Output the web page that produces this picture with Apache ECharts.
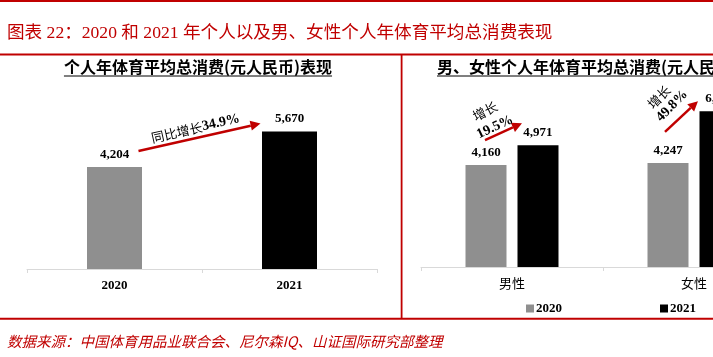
<!DOCTYPE html>
<html>
<head>
<meta charset="utf-8">
<script src="https://cdn.jsdelivr.net/npm/echarts@6/dist/echarts.min.js"></script>
<style>
html,body{margin:0;padding:0;background:#fff;overflow:hidden;}
#wrap{width:713px;height:357px;overflow:hidden;position:relative;}
#c{width:800px;height:357px;}
</style>
</head>
<body>
<div id="wrap"><div id="c"></div></div>
<script>
// ---- data ----
const categoriesTotal = ['2020', '2021'];
const valuesTotal = [4204, 5670];
const genderCategories = ['男性', '女性'];
const values2020 = [4160, 4247];
const values2021 = [4971, 6362];
const growthTotal = '34.9%';
const growthGender = ['19.5%', '49.8%'];
const seriesNames = ['2020', '2021'];

const mainTitle = '图表 22：2020 和 2021 年个人以及男、女性个人年体育平均总消费表现';
const leftTitle = '个人年体育平均总消费(元人民币)表现';
const rightTitle = '男、女性个人年体育平均总消费(元人民币)表现';
const sourceText = '数据来源：中国体育用品业联合会、尼尔森IQ、山证国际研究部整理';

// ---- styles ----
const RED = '#c00000';
const GRAY = '#8f8f8f';
const SERIF = '"Liberation Serif","Times New Roman","Noto Sans CJK SC"';
const CJK = '"Noto Sans CJK SC"';
const fmt = v => Number(v).toLocaleString('en-US');

const chart = echarts.init(document.getElementById('c'), null, {renderer: 'canvas'});

const axisLineStyle = {color: '#d9d9d9', width: 1};
const labelStyle = {show: true, position: 'top', distance: 6, fontFamily: SERIF, fontWeight: 'bold', fontSize: 13, color: '#000', formatter: p => fmt(p.value)};

const BW = 41, GAPPX = 11;

const option = {
  animation: false,
  backgroundColor: '#fff',
  grid: [
    {left: 27, width: 350, top: 75, height: 194},
    {left: 421, width: 364, top: 71, height: 196}
  ],
  legend: [
    {data: [seriesNames[0]], left: 521, top: 297, icon: 'rect', itemWidth: 8, itemHeight: 8, itemGap: 0,
     textStyle: {fontFamily: SERIF, fontWeight: 'bold', fontSize: 13, color: '#000', padding: [0, 0, 0, -3]}},
    {data: [seriesNames[1]], left: 655, top: 297, icon: 'rect', itemWidth: 8, itemHeight: 8, itemGap: 0,
     textStyle: {fontFamily: SERIF, fontWeight: 'bold', fontSize: 13, color: '#000', padding: [0, 0, 0, -3]}}
  ],
  xAxis: [
    {gridIndex: 0, type: 'category', data: categoriesTotal,
     axisLine: {lineStyle: axisLineStyle}, axisTick: {show: true, length: 4, lineStyle: axisLineStyle},
     axisLabel: {margin: 10, fontFamily: SERIF, fontWeight: 'bold', fontSize: 13, color: '#000'}},
    {gridIndex: 1, type: 'category', data: genderCategories,
     axisLine: {lineStyle: axisLineStyle}, axisTick: {show: true, length: 4, lineStyle: axisLineStyle},
     axisLabel: {margin: 10, fontFamily: CJK, fontSize: 13, color: '#000'}}
  ],
  yAxis: [
    {gridIndex: 0, type: 'value', min: 0, max: 8000, show: false},
    {gridIndex: 1, type: 'value', min: 0, max: 8000, show: false}
  ],
  series: [
    {type: 'bar', name: 'total', xAxisIndex: 0, yAxisIndex: 0, barWidth: 55,
     data: valuesTotal.map((v, i) => ({value: v, itemStyle: {color: i === 0 ? GRAY : '#000'}})),
     label: labelStyle},
    {type: 'bar', name: seriesNames[0], xAxisIndex: 1, yAxisIndex: 1, barWidth: BW, barGap: (GAPPX / BW * 100).toFixed(1) + '%',
     itemStyle: {color: GRAY}, data: values2020, label: labelStyle},
    {type: 'bar', name: seriesNames[1], xAxisIndex: 1, yAxisIndex: 1, barWidth: BW, barGap: (GAPPX / BW * 100).toFixed(1) + '%',
     itemStyle: {color: '#000'}, data: values2021, label: labelStyle}
  ]
};
chart.setOption(option);

// ---- annotations (computed from axis pixel positions) ----
const mctx = document.createElement('canvas').getContext('2d');
function textW(font, t) { mctx.font = font; return mctx.measureText(t).width; }

function arrow(x1, y1, x2, y2) {
  const a = Math.atan2(y2 - y1, x2 - x1);
  const L = 10, H = 5;
  const bx = x2 - L * Math.cos(a), by = y2 - L * Math.sin(a);
  const px = -Math.sin(a), py = Math.cos(a);
  return [
    {type: 'line', shape: {x1: x1, y1: y1, x2: bx, y2: by}, style: {stroke: RED, lineWidth: 2.5}, z: 10},
    {type: 'polygon', shape: {points: [[x2, y2], [bx + H * px, by + H * py], [bx - H * px, by - H * py]]}, style: {fill: RED}, z: 10}
  ];
}
function rtext(x, y, deg, text, rich) {
  return {type: 'text', x: x, y: y, rotation: deg * Math.PI / 180, z: 11,
    style: {text: text, rich: rich, align: 'center', verticalAlign: 'middle', fill: '#000'}};
}
const richAnn = {
  c: {fontFamily: CJK, fontSize: 13, fill: '#000', color: '#000'},
  n: {fontFamily: SERIF, fontWeight: 'bold', fontSize: 14, fill: '#000', color: '#000'}
};

const p0 = chart.convertToPixel({gridIndex: 0}, [0, valuesTotal[0]]);
const p1 = chart.convertToPixel({gridIndex: 0}, [1, valuesTotal[1]]);
const off = (BW + GAPPX) / 2;
const m20 = chart.convertToPixel({gridIndex: 1}, [0, values2020[0]]);
const m21 = chart.convertToPixel({gridIndex: 1}, [0, values2021[0]]);
const f20 = chart.convertToPixel({gridIndex: 1}, [1, values2020[1]]);
const f21 = chart.convertToPixel({gridIndex: 1}, [1, values2021[1]]);

const g = [];
// frame lines
g.push({type: 'rect', shape: {x: 0, y: 0, width: 713, height: 2}, style: {fill: RED}});
g.push({type: 'rect', shape: {x: 0, y: 53.5, width: 713, height: 2}, style: {fill: RED}});
g.push({type: 'rect', shape: {x: 0, y: 317.8, width: 713, height: 2}, style: {fill: RED}});
g.push({type: 'rect', shape: {x: 400.7, y: 55, width: 1.8, height: 263}, style: {fill: RED}});
// main title & source
g.push({type: 'text', x: 7, y: 33, style: {text: mainTitle, font: '17.6px ' + SERIF, fill: RED, verticalAlign: 'middle'}});
g.push({type: 'text', x: 7, y: 341, style: {text: sourceText, font: 'italic 14.5px ' + CJK, fill: RED, verticalAlign: 'middle'}});
// panel titles with underline
const tFont = 'bold 16px ' + CJK;
const lw = textW(tFont, leftTitle);
g.push({type: 'text', x: 198, y: 67, style: {text: leftTitle, font: tFont, fill: '#000', align: 'center', verticalAlign: 'middle'}});
g.push({type: 'line', shape: {x1: 198 - lw / 2, y1: 76, x2: 198 + lw / 2, y2: 76}, style: {stroke: '#000', lineWidth: 1}});
const rw = textW(tFont, rightTitle);
g.push({type: 'text', x: 437, y: 67, style: {text: rightTitle, font: tFont, fill: '#000', verticalAlign: 'middle'}});
g.push({type: 'line', shape: {x1: 437, y1: 76, x2: 437 + rw, y2: 76}, style: {stroke: '#000', lineWidth: 1}});

// left arrow
const la = [p0[0] + 24, p0[1] - 16, p1[0] - 29, p1[1] - 8];
g.push(...arrow(la[0], la[1], la[2], la[3]));
const lang = -Math.atan2(la[3] - la[1], la[2] - la[0]) * 180 / Math.PI;
g.push(rtext((la[0] + la[2]) / 2 - 4, (la[1] + la[3]) / 2 - 9, lang, '{c|同比增长}{n|' + growthTotal + '}', richAnn));

// male arrow
const mb20 = m20[0] - off, mb21 = m21[0] + off;
const ma = [mb20 - 1, m20[1] - 25, mb21 - 16, m21[1] - 22];
g.push(...arrow(ma[0], ma[1], ma[2], ma[3]));
g.push(rtext(mb20 - 1, m20[1] - 54, 27, '{c|增长}', richAnn));
g.push(rtext(mb20 + 9, m20[1] - 38, 25, '{n|' + growthGender[0] + '}', richAnn));

// female arrow
const fb20 = f20[0] - off, fb21 = f21[0] + off;
const fa = [fb20 - 3, f20[1] - 31, fb21 - 22, f21[1] - 10];
g.push(...arrow(fa[0], fa[1], fa[2], fa[3]));
g.push(rtext(fb20 - 9, f20[1] - 66, 45, '{c|增长}', richAnn));
g.push(rtext(fb20 + 4, f20[1] - 57, 45, '{n|' + growthGender[1] + '}', richAnn));

chart.setOption({graphic: {elements: g}});
</script>
</body>
</html>
